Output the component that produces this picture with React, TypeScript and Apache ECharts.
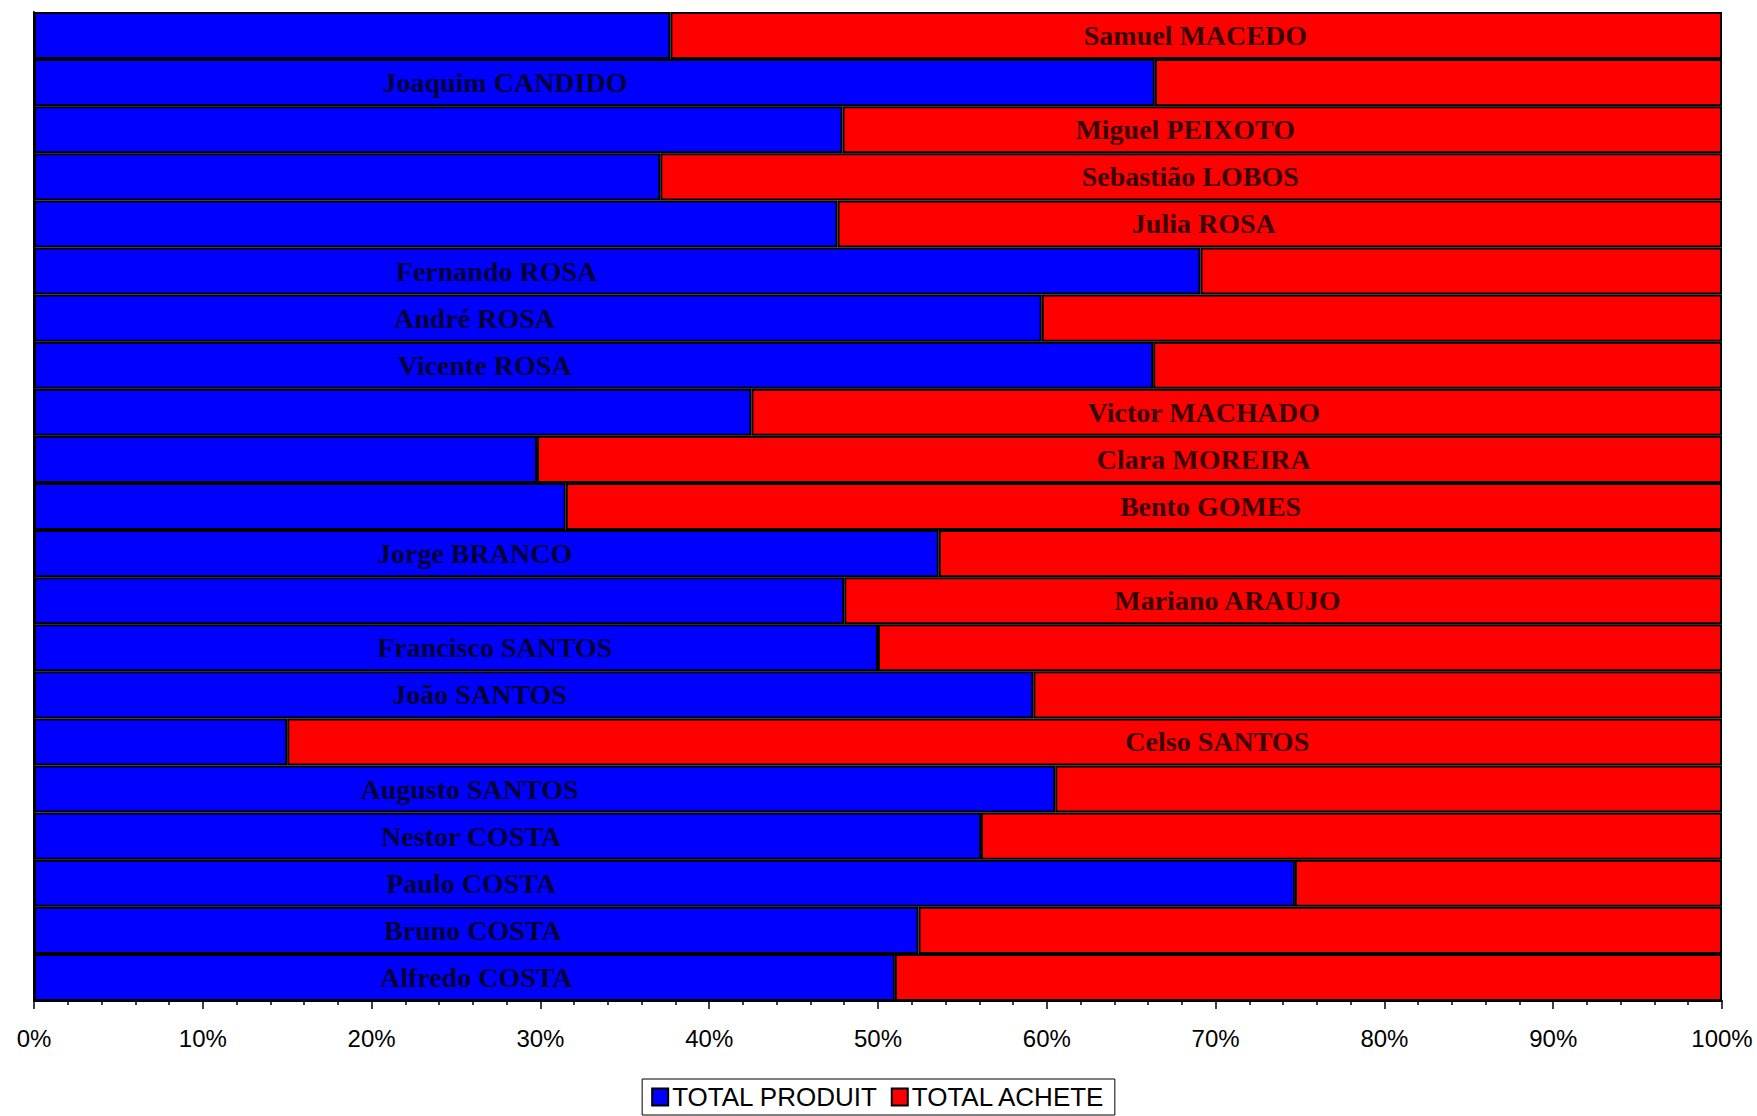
import React, { useEffect, useRef } from "react";
import * as echarts from "echarts";

// Categories, top to bottom as shown
const categories = [
  "Samuel MACEDO",
  "Joaquim CANDIDO",
  "Miguel PEIXOTO",
  "Sebastião LOBOS",
  "Julia ROSA",
  "Fernando ROSA",
  "André ROSA",
  "Vicente ROSA",
  "Victor MACHADO",
  "Clara MOREIRA",
  "Bento GOMES",
  "Jorge BRANCO",
  "Mariano ARAUJO",
  "Francisco SANTOS",
  "João SANTOS",
  "Celso SANTOS",
  "Augusto SANTOS",
  "Nestor COSTA",
  "Paulo COSTA",
  "Bruno COSTA",
  "Alfredo COSTA",
];

// Share (%) of TOTAL PRODUIT
const totalProduit = [
  37.7, 66.4, 47.9, 37.1, 47.6, 69.1, 59.7, 66.3, 42.5, 29.8, 31.5,
  53.6, 48.0, 50.0, 59.2, 15.0, 60.5, 56.1, 74.7, 52.4, 51.0,
];

// Share (%) of TOTAL ACHETE
const totalAchete = [
  62.3, 33.6, 52.1, 62.9, 52.4, 30.9, 40.3, 33.7, 57.5, 70.2, 68.5,
  46.4, 52.0, 50.0, 40.8, 85.0, 39.5, 43.9, 25.3, 47.6, 49.0,
];

// Where each data label (category name) sits along the % axis
const labelAt = [
  68.8, 27.9, 68.2, 68.5, 69.3, 27.4, 26.1, 26.7, 69.3, 69.3, 69.7,
  26.1, 70.7, 27.3, 26.4, 70.1, 25.8, 25.9, 25.9, 26.0, 26.2,
];

const xTicks = [0, 10, 20, 30, 40, 50, 60, 70, 80, 90, 100];

export default function App() {
  const ref = useRef<HTMLDivElement>(null);

  useEffect(() => {
    document.body.style.margin = "0";
    const chart = echarts.init(ref.current!, null, { renderer: "svg" });
    const option: any = {
      animation: false,
      backgroundColor: "#ffffff",
      grid: { left: 34, top: 12, width: 1688, height: 989, containLabel: false },
      legend: {
        data: ["TOTAL PRODUIT", "TOTAL ACHETE"],
        left: "center",
        top: 1079,
        padding: [5, 9, 5, 9],
        itemGap: 13,
        itemWidth: 16,
        itemHeight: 17,
        icon: "rect",
        backgroundColor: "#ffffff",
        borderColor: "#000000",
        borderWidth: 1,
        borderRadius: 0,
        textStyle: {
          fontFamily: "Liberation Sans, Arial, sans-serif",
          fontSize: 26,
          color: "#000000",
          padding: [0, 0, 0, -1],
        },
      },
      xAxis: {
        type: "value",
        min: 0,
        max: 100,
        interval: 10,
        axisLine: { show: true, lineStyle: { color: "#000000", width: 2 } },
        axisTick: { show: true, length: 8, lineStyle: { color: "#000000", width: 1.5 } },
        minorTick: { show: true, splitNumber: 5, length: 4, lineStyle: { color: "#000000", width: 1.5 } },
        splitLine: { show: false },
        axisLabel: {
          margin: 25,
          fontFamily: "Liberation Sans, Arial, sans-serif",
          fontSize: 24,
          color: "#000000",
          formatter: (v: number) => (xTicks.includes(v) ? v + "%" : ""),
        },
      },
      yAxis: {
        type: "category",
        data: categories,
        inverse: true,
        axisLine: { show: true, lineStyle: { color: "#000000", width: 2 } },
        axisTick: { show: false },
        axisLabel: { show: false },
        splitLine: { show: false },
      },
      series: [
        {
          name: "TOTAL PRODUIT",
          type: "bar",
          stack: "total",
          barCategoryGap: 0,
          data: totalProduit,
          itemStyle: { color: "#0000FF", borderColor: "#000000", borderWidth: 2 },
        },
        {
          name: "TOTAL ACHETE",
          type: "bar",
          stack: "total",
          barCategoryGap: 0,
          data: totalAchete,
          itemStyle: { color: "#FF0000", borderColor: "#000000", borderWidth: 2 },
        },
        {
          name: "labels",
          type: "scatter",
          symbolSize: 0,
          silent: true,
          z: 10,
          data: labelAt.map((x, i) => [x, i]),
          label: {
            show: true,
            position: "inside",
            formatter: (p: any) => categories[p.dataIndex],
            fontFamily: "Liberation Serif, Times New Roman, serif",
            fontWeight: "bold",
            fontSize: 28,
            color: "#000000",
          },
        },
      ],
    };
    chart.setOption(option);
    return () => chart.dispose();
  }, []);

  return <div ref={ref} style={{ width: 1757, height: 1116 }} />;
}
